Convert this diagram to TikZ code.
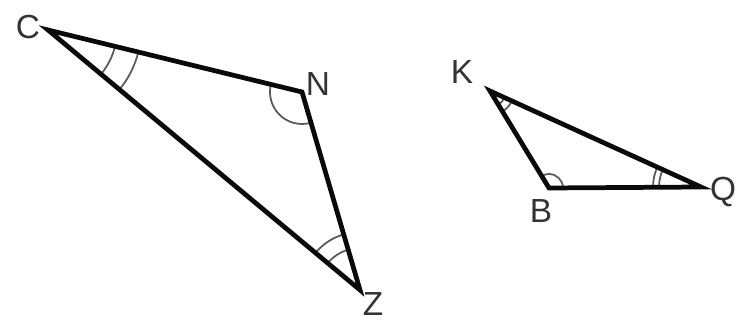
\documentclass[tikz,border=0pt]{standalone}
\usepackage{fontspec}
\setmainfont{Liberation Sans}
\usetikzlibrary{angles, calc}
\definecolor{inkblack}{HTML}{0A0A0A}
\definecolor{markgray}{HTML}{5A5A5A}
\definecolor{lblgray}{HTML}{333333}

\begin{document}
\begin{tikzpicture}[
  x=0.02cm, y=0.02cm,
  edge/.style={inkblack, line width=2.7pt, line join=miter},
  anglemark/.style={draw=markgray, line width=1pt},
  lbl/.style={lblgray, font=\fontsize{19}{19}\selectfont, inner sep=0pt}
]

% Frame (keeps the page at the reference size)
\useasboundingbox (0,0) rectangle (737,-320);

% ── Vertices ──
% Large triangle
\coordinate (C) at (48,-30);
\coordinate (N) at (302,-92);
\coordinate (Z) at (360,-290);
% Small triangle
\coordinate (K) at (490,-91);
\coordinate (B) at (549,-188);
\coordinate (Q) at (701,-187);

% ── Angle marks ──
% C and Z get two arcs, N one arc
\pic[anglemark, angle radius=1.38cm] {angle = Z--C--N};
\pic[anglemark, angle radius=1.86cm] {angle = Z--C--N};
\pic[anglemark, angle radius=0.64cm] {angle = C--N--Z};
\pic[anglemark, angle radius=0.84cm] {angle = N--Z--C};
\pic[anglemark, angle radius=1.16cm] {angle = N--Z--C};
% K and Q get two arcs, B one arc
\pic[anglemark, angle radius=0.32cm] {angle = B--K--Q};
\pic[anglemark, angle radius=0.48cm] {angle = B--K--Q};
\pic[anglemark, angle radius=0.28cm] {angle = Q--B--K};
\pic[anglemark, angle radius=0.84cm] {angle = K--Q--B};
\pic[anglemark, angle radius=0.96cm] {angle = K--Q--B};

% ── Triangles ──
\draw[edge] (C) -- (N) -- (Z) -- cycle;
\draw[edge] (K) -- (B) -- (Q) -- cycle;

% ── Vertex labels ──
\node[lbl] (lblC) at (28,-27) {C};
\node[lbl] (lblN) at (318,-84) {N};
\node[lbl] (lblZ) at (373,-304) {Z};
\node[lbl] (lblK) at (462,-72) {K};
\node[lbl] (lblB) at (541,-211) {B};
\node[lbl] (lblQ) at (723,-192) {Q};

\end{tikzpicture}
\end{document}
